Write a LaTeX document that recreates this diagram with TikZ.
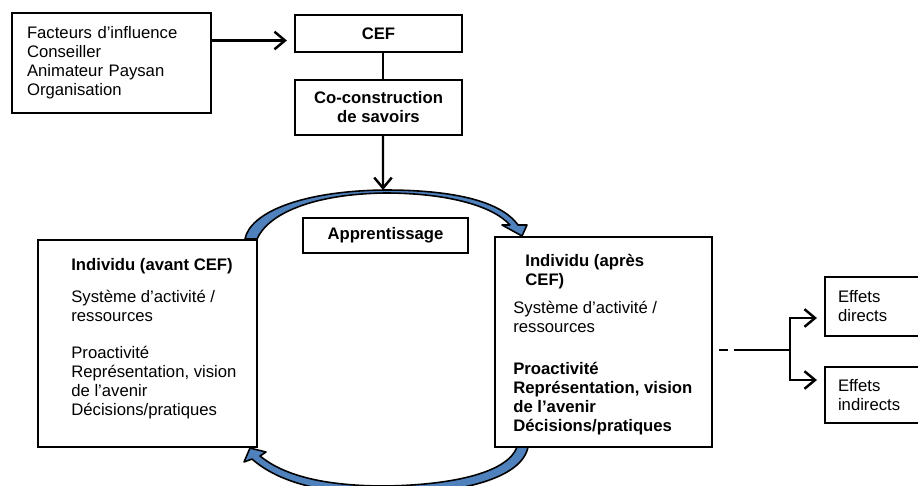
\documentclass[tikz,border=0pt]{standalone}
\usepackage{fontspec}
\setmainfont{Liberation Sans}
\usetikzlibrary{arrows.meta}
\definecolor{loopblue}{RGB}{79,129,189}

\tikzset{
    box/.style={draw, line width=1.2pt},
    txt/.style={font=\fontsize{9.5}{10.8}\selectfont, align=left, inner sep=0pt},
    bold/.style={font=\fontsize{9.5}{10.8}\selectfont\bfseries, align=center},
    arr/.style={line width=1.4pt, -{Straight Barb[length=6pt,width=10pt]}},
    cyclearrow/.style={fill=loopblue, draw=black, line width=0.9pt, line join=round}
}

\begin{document}
\begin{tikzpicture}[x=0.02cm, y=-0.02cm]
    \useasboundingbox (0,0) rectangle (918,486);
    % Top boxes.
        \node[box, txt, inner xsep=0.3cm, text width=3.38cm, minimum height=2cm] (fact) at (111.5,63) {Facteurs d’influence\\Conseiller\\Animateur Paysan\\Organisation};
        \node[box, bold, minimum width=3.34cm, minimum height=0.74cm] (cef) at (378.5,33.5) {CEF};
        \node[box, bold, minimum width=3.34cm, minimum height=1.1cm] (coco) at (378.5,107.5) {Co-construction\\de savoirs};
        \node[box, bold, minimum width=3.3cm, minimum height=0.7cm] (appr) at (385.5,235.5) {Apprentissage};
    % The two individu boxes, text placed inside.
        \node[box, minimum width=4.38cm, minimum height=4.14cm] (indL) at (147.5,343.5) {};
        \node[txt, anchor=north west] (indLtxt) at (71,258) {\textbf{Individu (avant CEF)}\\[7.5pt]Système d’activité /\\ressources\\[10pt]Proactivité\\Représentation, vision\\de l’avenir\\Décisions/pratiques};
        \node[box, minimum width=4.34cm, minimum height=4.2cm] (indR) at (603.5,342) {};
        \node[txt, font=\fontsize{9.5}{10.8}\selectfont\bfseries, anchor=north west] (indRtitle) at (525,254) {Individu (après\\CEF)};
        \node[txt, anchor=north west] (indRtxt) at (513,301) {Système d’activité /\\ressources\\[13pt]\textbf{Proactivité}\\\textbf{Représentation, vision}\\\textbf{de l’avenir}\\\textbf{Décisions/pratiques}};
    % Effets.
        \node[box, txt, inner xsep=0.26cm, text width=1.68cm, minimum height=1.18cm] (dir) at (880,306.5) {Effets\\directs};
        \node[box, txt, inner xsep=0.26cm, text width=1.68cm, minimum height=1.12cm] (indir) at (880,395) {Effets\\indirects};
    % Connectors.
        \path (cef.west) ++(0,7) coordinate (cefin);
        \draw[arr, shorten >=4pt] (fact.east |- cefin) -- (cefin);
        \draw[line width=1.4pt] ([xshift=0.09cm]cef.south) -- ([xshift=0.09cm]coco.north);
        \coordinate (arctop) at (383,190);
        \draw[arr] ([xshift=0.09cm]coco.south) -- (arctop);
        \coordinate (split) at (790,350);
        \draw[line width=1.4pt, shorten <=3.5pt, dash pattern=on 5pt off 3.4pt on 60pt] (indR.east |- split) -- (split);
        \path (dir.west) ++(0,11.5) coordinate (dirin);
        \path (indir.west) ++(0,-15) coordinate (indirin);
        \draw[arr, shorten >=4pt] (split) |- (dirin);
        \draw[arr, shorten >=4pt] (split) |- (indirin);
    % The two curved blue arrows.
        \draw[cyclearrow] (245,239) .. controls (250,213) and (300,191) .. (385,190)
            .. controls (450,190) and (500,200) .. (518,225) -- (527,225) -- (522,236) -- (502,225) -- (510,225)
            .. controls (492,205) and (445,193) .. (385,193)
            .. controls (312,194) and (268,214) .. (257,239) -- cycle;
        \draw[cyclearrow] (517,447) .. controls (508,472) and (455,485) .. (385,486)
            .. controls (320,486) and (282,474) .. (260,456) -- (266,452) -- (250,448) -- (244,462) -- (252,459)
            .. controls (278,482) and (322,494) .. (385,494)
            .. controls (462,494) and (522,478) .. (528,447) -- cycle;
\end{tikzpicture}
\end{document}
